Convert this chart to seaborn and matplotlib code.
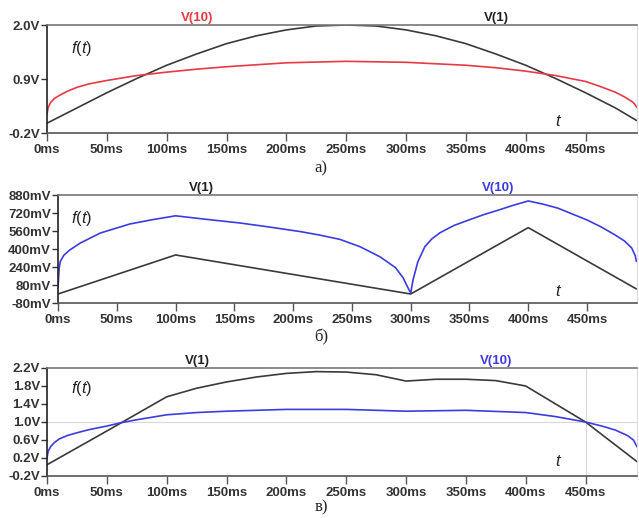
import matplotlib
matplotlib.use("Agg")
import matplotlib.pyplot as plt
import seaborn as sns

# panel a) values (V)
t_a_v1 = [0, 25, 50, 75, 100, 125, 150, 175, 200, 225, 250, 275, 300, 325, 350, 375, 400, 425, 450, 475, 493]
a_v1 = [0.0, 0.31, 0.62, 0.91, 1.18, 1.41, 1.62, 1.78, 1.90, 1.98, 2.0, 1.98, 1.90, 1.78, 1.62, 1.41, 1.18, 0.91, 0.62, 0.31, 0.05]
t_a_v10 = [0, 1, 3, 6, 10, 17, 25, 35, 50, 75, 100, 125, 150, 200, 250, 300, 350, 375, 400, 425, 450, 462, 475, 483, 490, 493]
a_v10 = [0.18, 0.32, 0.42, 0.50, 0.56, 0.65, 0.73, 0.80, 0.87, 0.97, 1.04, 1.10, 1.15, 1.23, 1.26, 1.24, 1.18, 1.13, 1.06, 0.97, 0.85, 0.75, 0.63, 0.53, 0.42, 0.32]

# panel б) values (mV)
t_b_v1 = [0, 100, 300, 400, 492]
b_v1 = [0, 347, 0, 590, 45]
t_b_v10 = [0, 1, 2, 5, 10, 19, 36, 61, 80, 100, 125, 155, 180, 206, 222, 240, 257, 274, 287, 293.5, 297.7, 300,
           302, 306, 312, 318, 325, 337, 350, 362, 375, 387, 400, 412, 425, 437, 450, 462, 474, 482, 488, 491, 492]
b_v10 = [60, 230, 290, 345, 391, 453, 542, 622, 660, 695, 665, 631, 595, 555, 525, 485, 420, 330, 235, 145, 55, 8,
         125, 284, 420, 490, 545, 610, 660, 705, 747, 788, 827, 800, 764, 713, 658, 596, 524, 470, 409, 340, 290]

# panel в) values (V)
t_c_v1 = [0, 50, 100, 125, 150, 175, 200, 225, 250, 275, 300, 325, 350, 375, 400, 450, 493]
c_v1 = [0.05, 0.80, 1.56, 1.75, 1.89, 2.0, 2.08, 2.12, 2.11, 2.05, 1.91, 1.95, 1.95, 1.92, 1.80, 1.00, 0.12]
t_c_v10 = [0, 1, 3, 6, 10, 17, 25, 35, 50, 63, 75, 100, 125, 150, 200, 250, 300, 350, 400, 425, 450, 465, 475, 485, 490, 493]
c_v10 = [0.2, 0.35, 0.45, 0.54, 0.62, 0.70, 0.76, 0.83, 0.91, 0.99, 1.05, 1.16, 1.21, 1.24, 1.28, 1.28, 1.24, 1.26, 1.21, 1.12, 1.0, 0.9, 0.82, 0.70, 0.60, 0.45]

x_ticks = [0, 50, 100, 150, 200, 250, 300, 350, 400, 450]
x_labels = [f"{v}ms" for v in x_ticks]
a_ticks = [-0.2, 0.9, 2.0]
a_labels = ["-0.2V", "0.9V", "2.0V"]
b_ticks = [-80, 80, 240, 400, 560, 720, 880]
b_labels = ["-80mV", "80mV", "240mV", "400mV", "560mV", "720mV", "880mV"]
c_ticks = [-0.2, 0.2, 0.6, 1.0, 1.4, 1.8, 2.2]
c_labels = ["-0.2V", "0.2V", "0.6V", "1.0V", "1.4V", "1.8V", "2.2V"]

sns.set_style("white")
plt.rcParams['font.family'] = ['Liberation Sans', 'DejaVu Sans']
plt.rcParams['mathtext.fontset'] = 'custom'
plt.rcParams['mathtext.it'] = 'Liberation Sans:italic'
plt.rcParams['mathtext.rm'] = 'Liberation Sans'

BLACK = "#3a3a3a"
RED = "#e63a44"
BLUE = "#3c3ce0"
FS = 9.5

W, H = 639, 518
fig = plt.figure(figsize=(W / 100, H / 100), dpi=100)


def make_axes(left_px, top_px, bottom_px):
    right_px = 637
    return fig.add_axes([left_px / W, 1 - bottom_px / H, (right_px - left_px) / W, (bottom_px - top_px) / H])


def style(ax, xmax, ylim, yticks, ylabels):
    ax.set_xlim(0, xmax)
    ax.set_ylim(*ylim)
    ax.set_xticks(x_ticks)
    ax.set_xticklabels(x_labels, fontsize=FS, fontweight='bold', color="#333333")
    ax.set_yticks(yticks)
    ax.set_yticklabels(ylabels, fontsize=FS, fontweight='bold', color="#333333")
    ax.tick_params(axis='x', direction='out', length=6, width=1, color="#555555", pad=2, bottom=True)
    ax.tick_params(axis='y', direction='out', length=4, width=1, color="#333333", pad=1, left=True)
    ax.spines['left'].set_color("#222222")
    ax.spines['bottom'].set_color("#555555")
    ax.spines['top'].set_color("#777777")
    ax.spines['right'].set_color("#dddddd")
    for s in ax.spines.values():
        s.set_linewidth(1.2)
    ax.spines['right'].set_linewidth(0.8)
    ax.set_xlabel("")
    ax.set_ylabel("")


def labels(top_px, left_name, left_color, right_name, right_color, ft_y, t_y, cap_y, cap, lx=197, rx=496):
    fig.text(lx / W, 1 - (top_px - 7) / H, left_name, color=left_color, fontsize=FS,
             fontweight='bold', ha='center', va='center')
    fig.text(rx / W, 1 - (top_px - 7) / H, right_name, color=right_color, fontsize=FS,
             fontweight='bold', ha='center', va='center')
    fig.text(82 / W, 1 - ft_y / H, "$f$($t$)", fontsize=12, ha='center', va='center')
    fig.text(559 / W, 1 - t_y / H, "$t$", fontsize=12, ha='center', va='center')
    fig.text(321 / W, 1 - cap_y / H, cap, fontsize=12, family='Liberation Serif',
             ha='center', va='center')


# а)
ax_a = make_axes(47, 25, 133)
sns.lineplot(x=t_a_v1, y=a_v1, ax=ax_a, color=BLACK, linewidth=1.2)
sns.lineplot(x=t_a_v10, y=a_v10, ax=ax_a, color=RED, linewidth=1.2)
style(ax_a, 493, (-0.2, 2.0), a_ticks, a_labels)
labels(25, "V(10)", RED, "V(1)", "#222222", 48, 121, 168, "а)")

# б)
ax_b = make_axes(58, 195, 303)
sns.lineplot(x=t_b_v1, y=b_v1, ax=ax_b, color=BLACK, linewidth=1.2)
sns.lineplot(x=t_b_v10, y=b_v10, ax=ax_b, color=BLUE, linewidth=1.2)
style(ax_b, 492.5, (-80, 880), b_ticks, b_labels)
labels(195, "V(1)", "#222222", "V(10)", BLUE, 218, 292, 337, "б)", lx=201, rx=498)

# в)
ax_c = make_axes(47, 368, 476)
ax_c.axhline(1.0, color="#d8d8d8", linewidth=0.8, zorder=0)
ax_c.axvline(450, color="#d8d8d8", linewidth=0.8, zorder=0)
sns.lineplot(x=t_c_v1, y=c_v1, ax=ax_c, color=BLACK, linewidth=1.2)
sns.lineplot(x=t_c_v10, y=c_v10, ax=ax_c, color=BLUE, linewidth=1.2)
style(ax_c, 493, (-0.2, 2.2), c_ticks, c_labels)
labels(368, "V(1)", "#222222", "V(10)", BLUE, 388, 461, 507, "в)")

fig.savefig("out.png", dpi=100)
